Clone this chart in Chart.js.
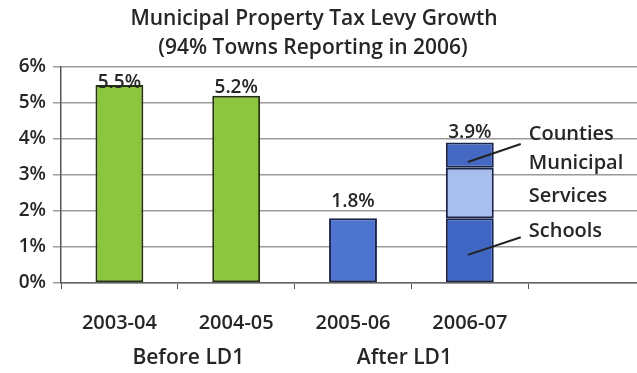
<!DOCTYPE html>
<html>
<head>
<meta charset="utf-8">
<script src="https://cdn.jsdelivr.net/npm/chart.js@4"></script>
<style>
  html, body { margin: 0; padding: 0; background: #fff; overflow: hidden; }
  #wrap { width: 645px; height: 373px; position: relative; }
</style>
</head>
<body>
<div id="wrap"><canvas id="c"></canvas></div>
<script>
// Fiscal years (last slot left empty on purpose)
const categories = ['2003-04', '2004-05', '2005-06', '2006-07', ''];
// Total levy growth, % (single bars)
const totalGrowth = [5.5, 5.2, 1.8, null, null];
// 2006-07 breakdown, %
const schools = [null, null, null, 1.8, null];
const municipalServices = [null, null, null, 1.4, null];
const counties = [null, null, null, 0.7, null];
// Value labels printed above each column
const valueLabels = ['5.5%', '5.2%', '1.8%', '3.9%', ''];
// Y axis tick values
const yTicks = [0, 1, 2, 3, 4, 5, 6];
// Group captions under the category labels
const groupLabels = ['Before LD1', 'After LD1'];
const titleLines = ['Municipal Property Tax Levy Growth', '(94% Towns Reporting in 2006)'];

const FONT = "'Open Sans', sans-serif";
const TEXT = '#262626';

const overlay = {
  id: 'overlay',
  afterDatasetsDraw(chart) {
    const { ctx, scales: { x, y } } = chart;
    ctx.save();
    ctx.fillStyle = TEXT;
    ctx.textAlign = 'center';
    ctx.textBaseline = 'middle';

    // title
    ctx.font = `600 21px ${FONT}`;
    ctx.fillText(titleLines[0], 314, 19);
    ctx.fillText(titleLines[1], 313, 48);

    // value labels: baseline offset from each column top
    const lift = [-3, 3, 11, 5];
    ctx.font = `600 19px ${FONT}`;
    ctx.textBaseline = 'alphabetic';
    valueLabels.forEach((txt, i) => {
      if (!txt) return;
      let sum = 0;
      [totalGrowth, schools, municipalServices, counties].forEach(a => { sum += a[i] || 0; });
      ctx.fillText(txt, x.getPixelForValue(i), y.getPixelForValue(sum) - lift[i]);
    });

    // group captions
    ctx.font = `600 21px ${FONT}`;
    ctx.textBaseline = 'middle';
    ctx.fillText(groupLabels[0], x.getPixelForValue(0.59), 358);
    ctx.fillText(groupLabels[1], x.getPixelForValue(2.44), 358);

    // callouts for the stacked column
    const bar = chart.getDatasetMeta(1).data[3];
    const cx = bar.x;
    const right = cx + bar.width / 2;
    const tx = right + 35;
    ctx.font = `600 20px ${FONT}`;
    ctx.textAlign = 'left';
    ctx.fillText('Counties', tx, y.getPixelForValue(4.12));
    ctx.fillText('Municipal', tx, y.getPixelForValue(3.33));
    ctx.fillText('Services', tx, y.getPixelForValue(2.42));
    ctx.fillText('Schools', tx, y.getPixelForValue(1.45));

    ctx.strokeStyle = '#222';
    ctx.lineWidth = 2;
    ctx.beginPath();
    ctx.moveTo(cx - 2, y.getPixelForValue(3.36));
    ctx.lineTo(tx - 8, y.getPixelForValue(3.86));
    ctx.moveTo(cx - 2, y.getPixelForValue(0.78));
    ctx.lineTo(tx - 8, y.getPixelForValue(1.27));
    ctx.stroke();
    ctx.restore();
  }
};

const barStyle = {
  borderWidth: 2,
  borderSkipped: false,
  barPercentage: 0.41,
  categoryPercentage: 1
};

new Chart(document.getElementById('c'), {
  type: 'bar',
  data: {
    labels: categories,
    datasets: [
      Object.assign({ label: 'Total', data: totalGrowth,
        backgroundColor: ['#8cc63e', '#8cc63e', '#4d74cf', '#4d74cf', '#4d74cf'],
        borderColor: ['#25320e', '#25320e', '#18244a', '#18244a', '#18244a'] }, barStyle),
      Object.assign({ label: 'Schools', data: schools,
        backgroundColor: '#4066c4', borderColor: '#18244a' }, barStyle),
      Object.assign({ label: 'Municipal Services', data: municipalServices,
        backgroundColor: '#a8bfee', borderColor: '#18244a' }, barStyle),
      Object.assign({ label: 'Counties', data: counties,
        backgroundColor: '#4568c2', borderColor: '#18244a' }, barStyle)
    ]
  },
  options: {
    responsive: true,
    maintainAspectRatio: false,
    animation: false,
    layout: { padding: { top: 67, right: 0, left: 0, bottom: 0 } },
    plugins: {
      legend: { display: false },
      title: { display: false },
      tooltip: { enabled: false }
    },
    scales: {
      x: {
        stacked: true,
        grid: { display: true, drawOnChartArea: false, drawTicks: true, tickLength: 6, color: '#555', offset: true },
        border: { color: '#666', width: 1.5 },
        ticks: { color: TEXT, font: { family: FONT, size: 20, weight: '600' }, padding: 22, maxRotation: 0 },
        afterFit(s) { s.height = 90; }
      },
      y: {
        stacked: true,
        min: 0,
        max: 6,
        afterBuildTicks(s) { s.ticks = yTicks.map(v => ({ value: v })); },
        grid: { color: '#9a9a9a', lineWidth: 1.5, tickLength: 8 },
        border: { color: '#555', width: 1.5 },
        ticks: {
          color: TEXT,
          font: { family: FONT, size: 19, weight: '600' },
          padding: 7,
          callback: v => v + '%'
        },
        afterFit(s) { s.width = 61; }
      }
    }
  },
  plugins: [overlay]
});
</script>
</body>
</html>
